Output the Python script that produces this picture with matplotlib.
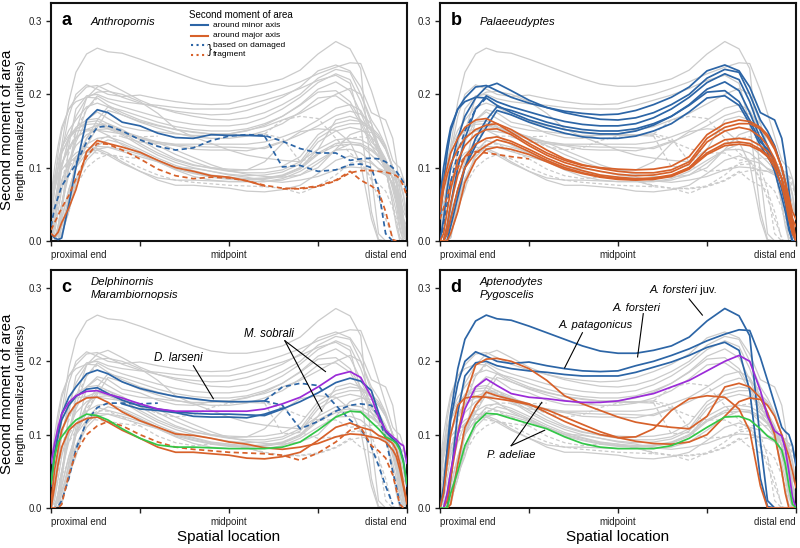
import matplotlib.pyplot as plt
import numpy as np

nan = np.nan

# spatial location along the bone, 0 = proximal end, 1 = distal end
x = [0.0, 0.01, 0.02, 0.03, 0.05, 0.07, 0.10, 0.13, 0.16, 0.20, 0.25, 0.30, 0.35,
     0.40, 0.45, 0.50, 0.55, 0.60, 0.65, 0.70, 0.75, 0.80, 0.84, 0.87, 0.90, 0.92,
     0.94, 0.96, 0.97, 0.98, 0.99, 1.0]

# --- a: Anthropornis
anthro_minor = [0.01, 0.004, 0.002, 0.004, 0.05, 0.10, 0.165, 0.179, 0.175, 0.162, 0.157, 0.147, 0.141,
                0.14, 0.145, 0.144, 0.144, 0.143, nan, nan, nan, nan, nan, nan, nan, nan,
                nan, nan, nan, nan, nan, nan]
anthro_minor_frag1 = [0.02, 0.045, 0.06, 0.075, 0.09, 0.105, 0.135, 0.155, 0.157, 0.15, 0.138, 0.129, 0.124,
                      0.127, 0.137, 0.143, 0.145, 0.144, 0.136, 0.126, 0.12, 0.12, 0.11, 0.112, 0.113, 0.112,
                      0.108, 0.10, 0.095, 0.088, 0.08, 0.07]
anthro_minor_frag2 = [nan, nan, nan, nan, nan, nan, nan, nan, nan, nan, nan, nan, nan,
                      nan, nan, nan, nan, 0.143, 0.101, 0.103, 0.095, 0.097, 0.104, 0.105, 0.10, 0.07,
                      0.01, 0.0, nan, nan, nan, nan]
anthro_major = [0.01, 0.006, 0.012, 0.025, 0.045, 0.07, 0.122, 0.137, 0.133, 0.128, 0.121, 0.11, 0.10,
                0.095, 0.089, 0.087, 0.082, 0.075, nan, nan, nan, nan, nan, nan, nan, nan,
                nan, nan, nan, nan, nan, nan]
anthro_major_frag1 = [0.015, 0.025, 0.035, 0.045, 0.062, 0.085, 0.115, 0.133, 0.132, 0.124, 0.112, 0.098, 0.089,
                      0.085, 0.087, 0.086, 0.082, 0.076, 0.072, 0.071, 0.074, 0.082, 0.093, 0.096, 0.096, 0.095,
                      0.094, 0.091, 0.089, 0.085, 0.075, 0.06]
anthro_major_frag2 = [nan, nan, nan, nan, nan, nan, nan, nan, nan, nan, nan, nan, nan,
                      nan, nan, nan, nan, nan, 0.071, 0.072, 0.075, 0.083, 0.095, 0.083, 0.075, 0.068,
                      0.04, 0.002, 0.0, nan, nan, nan]

# --- b: Palaeeudyptes
palae_minor = [
    [0.03, 0.08, 0.12, 0.15, 0.18, 0.195, 0.21, 0.212, 0.205, 0.196, 0.188, 0.182, 0.177, 0.174, 0.172, 0.173,
     0.178, 0.186, 0.196, 0.21, 0.232, 0.24, 0.232, 0.21, 0.175, 0.17, 0.165, 0.14, 0.11, 0.07, 0.02, 0.0],
    [0.0, 0.03, 0.07, 0.10, 0.14, 0.17, 0.195, 0.21, 0.215, 0.205, 0.192, 0.182, 0.175, 0.17, 0.166, 0.165,
     0.168, 0.175, 0.186, 0.20, 0.222, 0.234, 0.23, 0.20, 0.165, 0.15, 0.13, 0.10, 0.08, 0.05, 0.015, 0.0],
    [0.0, 0.0, 0.02, 0.05, 0.10, 0.14, 0.18, 0.198, 0.19, 0.183, 0.176, 0.169, 0.163, 0.159, 0.157, 0.157,
     0.16, 0.168, 0.18, 0.196, 0.216, 0.228, 0.22, 0.19, 0.15, 0.13, 0.105, 0.07, 0.05, 0.02, 0.0, 0.0],
    [0.0, 0.0, 0.0, 0.02, 0.06, 0.10, 0.14, 0.165, 0.183, 0.178, 0.17, 0.162, 0.156, 0.152, 0.15, 0.15,
     0.153, 0.16, 0.17, 0.186, 0.207, 0.217, 0.205, 0.175, 0.14, 0.12, 0.095, 0.06, 0.04, 0.015, 0.0, 0.0],
    [0.06, 0.10, 0.13, 0.155, 0.18, 0.19, 0.196, 0.195, 0.185, 0.175, 0.165, 0.158, 0.152, 0.148, 0.146, 0.146,
     0.15, 0.158, 0.17, 0.185, 0.203, 0.205, 0.19, 0.165, 0.135, 0.125, 0.11, 0.085, 0.065, 0.04, 0.02, 0.0],
    [0.0, 0.0, 0.01, 0.03, 0.07, 0.10, 0.13, 0.155, 0.178, 0.172, 0.162, 0.154, 0.147, 0.142, 0.14, 0.14,
     0.143, 0.15, 0.16, 0.176, 0.195, 0.198, 0.185, 0.16, 0.13, 0.115, 0.10, 0.075, 0.06, 0.035, 0.01, 0.0],
]
palae_minor_frag = [0.0, 0.02, 0.05, 0.08, 0.12, 0.15, 0.18, 0.195, nan, nan, nan, nan, nan, nan, nan, nan,
                    nan, nan, nan, nan, nan, nan, nan, nan, nan, nan, nan, nan, nan, nan, nan, nan]
palae_major = [
    [0.05, 0.08, 0.10, 0.12, 0.14, 0.155, 0.165, 0.167, 0.16, 0.148, 0.133, 0.12, 0.11, 0.103, 0.10, 0.098,
     0.097, 0.098, 0.102, 0.115, 0.145, 0.16, 0.165, 0.163, 0.155, 0.145, 0.128, 0.10, 0.08, 0.055, 0.03, 0.0],
    [0.04, 0.07, 0.09, 0.105, 0.125, 0.14, 0.152, 0.158, 0.16, 0.152, 0.138, 0.124, 0.112, 0.104, 0.099, 0.095,
     0.093, 0.093, 0.097, 0.108, 0.14, 0.155, 0.16, 0.16, 0.153, 0.142, 0.125, 0.10, 0.08, 0.06, 0.04, 0.03],
    [0.0, 0.01, 0.04, 0.07, 0.11, 0.13, 0.145, 0.152, 0.153, 0.145, 0.13, 0.117, 0.107, 0.10, 0.095, 0.091,
     0.089, 0.09, 0.094, 0.105, 0.135, 0.15, 0.155, 0.152, 0.142, 0.13, 0.112, 0.085, 0.065, 0.04, 0.015, 0.0],
    [0.0, 0.0, 0.02, 0.05, 0.09, 0.115, 0.132, 0.14, 0.142, 0.136, 0.125, 0.113, 0.103, 0.096, 0.09, 0.087,
     0.085, 0.086, 0.09, 0.10, 0.125, 0.138, 0.14, 0.138, 0.13, 0.122, 0.108, 0.085, 0.065, 0.045, 0.02, 0.0],
    [0.0, 0.0, 0.01, 0.03, 0.07, 0.10, 0.12, 0.13, 0.138, 0.133, 0.122, 0.11, 0.10, 0.093, 0.088, 0.085,
     0.084, 0.085, 0.089, 0.10, 0.12, 0.133, 0.135, 0.133, 0.125, 0.117, 0.105, 0.085, 0.07, 0.05, 0.03, 0.02],
    [0.0, 0.0, 0.0, 0.01, 0.04, 0.08, 0.11, 0.125, 0.128, 0.125, 0.118, 0.108, 0.098, 0.092, 0.087, 0.084,
     0.083, 0.084, 0.088, 0.098, 0.118, 0.13, 0.132, 0.13, 0.123, 0.115, 0.10, 0.075, 0.055, 0.03, 0.01, 0.0],
]
palae_major_frag = [0.03, 0.045, 0.06, 0.08, 0.10, 0.115, 0.122, 0.12, 0.118, 0.115, 0.112, nan, nan, nan, nan, nan,
                    nan, nan, nan, nan, nan, nan, nan, nan, nan, nan, nan, nan, nan, nan, nan, nan]

# --- c: Delphinornis, Marambiornopsis
delph_minor = [
    [0.03, 0.07, 0.10, 0.128, 0.151, 0.165, 0.183, 0.188, 0.183, 0.172, 0.163, 0.157, 0.152, 0.149, 0.146, 0.145,
     0.145, 0.146, nan, nan, nan, nan, nan, nan, nan, nan, nan, nan, nan, nan, nan, nan],
    [0.035, 0.075, 0.10, 0.12, 0.14, 0.152, 0.162, 0.164, 0.156, 0.147, 0.139, 0.135, 0.131, 0.129, 0.128, 0.128,
     0.127, 0.126, 0.135, 0.145, 0.157, 0.171, 0.177, 0.173, 0.16, 0.13, 0.104, 0.094, 0.09, 0.082, 0.065, 0.03],
    [nan, nan, nan, nan, nan, nan, nan, nan, nan, 0.142, 0.135, 0.133, 0.13, 0.125, 0.124, 0.124,
     0.123, 0.128, 0.136, nan, nan, nan, nan, nan, nan, nan, nan, nan, nan, nan, nan, nan],
]
delph_minor_frag = [
    [0.0, 0.0, 0.002, 0.01, 0.04, 0.08, 0.118, 0.137, 0.143, 0.143, 0.142, 0.143, nan, nan, nan, nan,
     nan, 0.146, 0.165, 0.17, 0.167, 0.14, 0.12, 0.108, 0.083, 0.058, 0.03, 0.005, nan, nan, nan, nan],
    [nan, nan, nan, nan, nan, nan, nan, nan, nan, nan, nan, nan, nan, nan, nan, nan,
     nan, 0.146, 0.14, 0.108, 0.118, 0.132, 0.14, 0.142, 0.14, 0.125, 0.095, 0.05, 0.03, 0.005, 0.0, nan],
]
delph_major = [
    [0.006, 0.052, 0.08, 0.106, 0.128, 0.142, 0.15, 0.151, 0.144, 0.131, 0.119, 0.11, 0.101, 0.099, 0.095, 0.09,
     0.087, 0.082, 0.08, 0.083, 0.088, 0.097, 0.101, 0.10, 0.097, 0.095, 0.09, 0.079, 0.07, 0.052, 0.029, 0.006],
    [0.0, 0.029, 0.06, 0.083, 0.106, 0.115, 0.122, 0.124, 0.117, 0.106, 0.095, 0.083, 0.076, 0.076, 0.074, 0.072,
     0.068, 0.067, 0.07, 0.076, 0.092, 0.11, 0.116, 0.11, 0.106, 0.099, 0.095, 0.088, 0.079, 0.061, 0.033, 0.006],
]
delph_major_frag = [0.0, 0.0, 0.0, 0.005, 0.045, 0.075, 0.10, 0.112, 0.118, 0.112, 0.10, 0.09, 0.083, 0.08, 0.078,
                    0.076, 0.075, 0.074, 0.072, 0.065, 0.075, 0.09, 0.106, 0.11, 0.085, 0.078, 0.068, 0.045, 0.025,
                    0.005, 0.0, 0.0]
sobrali_minor = [0.061, 0.088, 0.11, 0.128, 0.144, 0.153, 0.159, 0.16, 0.155, 0.15, 0.142, 0.135, 0.132, 0.132,
                 0.132, 0.132, 0.132, 0.135, 0.142, 0.151, 0.165, 0.181, 0.186, 0.178, 0.151, 0.124, 0.106, 0.097,
                 0.093, 0.088, 0.085, 0.061]
sobrali_major = [0.033, 0.07, 0.09, 0.097, 0.11, 0.12, 0.128, 0.126, 0.12, 0.108, 0.095, 0.086, 0.083, 0.083,
                 0.082, 0.081, 0.081, 0.081, 0.083, 0.09, 0.106, 0.124, 0.132, 0.131, 0.117, 0.108, 0.097, 0.092,
                 0.088, 0.079, 0.061, 0.033]

# --- d: Aptenodytes, Pygoscelis
apten_minor = [
    [0.0, 0.03, 0.08, 0.13, 0.19, 0.23, 0.255, 0.263, 0.258, 0.256, 0.248, 0.239, 0.23, 0.221, 0.214, 0.211,
     0.211, 0.215, 0.221, 0.233, 0.255, 0.272, 0.262, 0.235, 0.09, 0.01, 0.0, 0.0, 0.0, 0.0, 0.0, 0.0],
    [0.0, 0.02, 0.07, 0.12, 0.17, 0.20, 0.213, 0.207, 0.20, 0.197, 0.199, 0.194, 0.19, 0.187, 0.186, 0.187,
     0.194, 0.20, 0.208, 0.217, 0.228, 0.237, 0.243, 0.242, 0.205, 0.174, 0.142, 0.11, 0.104, 0.10, 0.085, 0.058],
    [0.0, 0.0, 0.0, 0.04, 0.13, 0.18, 0.198, 0.20, 0.194, 0.19, 0.187, 0.185, 0.182, 0.18, 0.18, 0.18,
     0.185, 0.192, 0.199, 0.208, 0.219, 0.226, 0.215, 0.16, 0.04, 0.002, 0.0, 0.0, 0.0, 0.0, 0.0, 0.0],
]
apten_major = [
    [0.0, 0.0, 0.01, 0.04, 0.10, 0.15, 0.195, 0.203, 0.204, 0.20, 0.19, 0.174, 0.153, 0.142, 0.133, 0.124,
     0.117, 0.113, 0.11, 0.108, 0.125, 0.165, 0.17, 0.165, 0.15, 0.13, 0.10, 0.05, 0.02, 0.0, 0.0, 0.0],
    [0.0, 0.02, 0.06, 0.10, 0.14, 0.15, 0.152, 0.151, 0.149, 0.146, 0.141, 0.134, 0.124, 0.114, 0.104, 0.096,
     0.091, 0.088, 0.087, 0.09, 0.10, 0.125, 0.145, 0.15, 0.148, 0.14, 0.125, 0.10, 0.085, 0.07, 0.05, 0.028],
    [0.0, 0.0, 0.0, 0.005, 0.06, 0.11, 0.14, 0.158, 0.153, 0.148, 0.142, 0.13, 0.118, 0.108, 0.10, 0.096,
     0.097, 0.108, 0.133, 0.149, 0.153, 0.151, 0.135, 0.105, 0.03, 0.0, 0.0, 0.0, 0.0, 0.0, 0.0, 0.0],
]
adeliae_minor = [0.0, 0.0, 0.02, 0.05, 0.10, 0.135, 0.165, 0.176, 0.167, 0.156, 0.151, 0.149, 0.146, 0.144,
                 0.144, 0.146, 0.151, 0.156, 0.165, 0.174, 0.187, 0.20, 0.208, 0.20, 0.16, 0.125, 0.105, 0.098,
                 0.08, 0.05, 0.015, 0.0]
adeliae_major = [0.0, 0.0, 0.0, 0.02, 0.05, 0.085, 0.115, 0.129, 0.128, 0.122, 0.115, 0.108, 0.097, 0.088,
                 0.083, 0.081, 0.081, 0.081, 0.085, 0.095, 0.11, 0.124, 0.125, 0.12, 0.108, 0.098, 0.092, 0.079,
                 0.06, 0.03, 0.005, 0.0]

BLUE = '#2c65a6'
ORANGE = '#d7612a'
PURPLE = '#9b2bd8'
GREEN = '#33c748'
GRAY = '#cbcbcb'

# (values, colour, dashed)
groups = {
    'a': [(anthro_minor, BLUE, False), (anthro_minor_frag1, BLUE, True), (anthro_minor_frag2, BLUE, True),
          (anthro_major, ORANGE, False), (anthro_major_frag1, ORANGE, True), (anthro_major_frag2, ORANGE, True)],
    'b': [(c, BLUE, False) for c in palae_minor] + [(palae_minor_frag, BLUE, True)]
         + [(c, ORANGE, False) for c in palae_major] + [(palae_major_frag, ORANGE, True)],
    'c': [(c, BLUE, False) for c in delph_minor] + [(c, BLUE, True) for c in delph_minor_frag]
         + [(c, ORANGE, False) for c in delph_major] + [(delph_major_frag, ORANGE, True)]
         + [(sobrali_minor, PURPLE, False), (sobrali_major, GREEN, False)],
    'd': [(c, BLUE, False) for c in apten_minor] + [(c, ORANGE, False) for c in apten_major]
         + [(adeliae_minor, PURPLE, False), (adeliae_major, GREEN, False)],
}
genera = {'a': ['Anthropornis'], 'b': ['Palaeeudyptes'],
          'c': ['Delphinornis', 'Marambiornopsis'], 'd': ['Aptenodytes', 'Pygoscelis']}

plt.rcParams['font.family'] = ['Liberation Sans', 'DejaVu Sans']

fig = plt.figure(figsize=(8, 5.48), dpi=100)
boxes = {'a': [0.06375, 0.5602, 0.445, 0.4343], 'b': [0.55, 0.5602, 0.445, 0.4343],
         'c': [0.06375, 0.073, 0.445, 0.4343], 'd': [0.55, 0.073, 0.445, 0.4343]}
ytop = 0.3245

axes = {}
for key in 'abcd':
    ax = fig.add_axes(boxes[key])
    axes[key] = ax
    # everything that is not in this panel's group is drawn in gray
    for other in 'abcd':
        if other == key:
            continue
        for vals, col, dashed in groups[other]:
            ax.plot(x, vals, color=GRAY, lw=0.9, ls=(0, (3, 2)) if dashed else '-', zorder=1)
    for vals, col, dashed in groups[key]:
        ax.plot(x, vals, color=col, lw=1.25, ls=(0, (3, 2)) if dashed else '-', zorder=3)

    ax.set_xlim(0, 1)
    ax.set_ylim(0, ytop)
    ax.set_yticks([0, 0.1, 0.2, 0.3])
    ax.set_yticklabels(['0.0', '0.1', '0.2', '0.3'])
    ax.set_xticks([0, 0.25, 0.5, 0.75, 1.0])
    ax.set_xticklabels(['proximal end', '', 'midpoint', '', 'distal end'])
    labels = ax.get_xticklabels()
    labels[0].set_ha('left')
    labels[-1].set_ha('right')
    ax.tick_params(direction='out', length=3.5, width=1, labelsize=7, colors='#222222', pad=3)
    for sp in ax.spines.values():
        sp.set_linewidth(1.5)
        sp.set_color('#111111')

    ax.text(0.03, 0.294, key, fontsize=13, fontweight='bold', ha='left', va='baseline')
    gy = 0.299 if len(genera[key]) == 1 else 0.308
    for name in genera[key]:
        ax.text(0.11, gy, name, fontsize=8.2, style='italic', ha='left', va='center')
        gy -= 0.018

# y-axis labels
for fy in (0.763, 0.281):
    fig.text(0.0085, fy, 'Second moment of area', rotation=90, fontsize=10.8, ha='center', va='center')
    fig.text(0.0265, fy, 'length normalized (unitless)', rotation=90, fontsize=8.2, ha='center', va='center')

# x-axis labels
for key in 'cd':
    b = boxes[key]
    fig.text(b[0] + b[2] / 2, 0.02, 'Spatial location', fontsize=11, ha='center', va='center')

# legend in panel a
ax = axes['a']
ax.text(0.389, 0.308, 'Second moment of area', fontsize=7, ha='left', va='center')
leg_rows = [(0.294, BLUE, '-', 'around minor axis'), (0.280, ORANGE, '-', 'around major axis'),
            (0.267, BLUE, ':', 'based on damaged'), (0.254, ORANGE, ':', 'fragment')]
for ly, col, ls, lab in leg_rows:
    ax.plot([0.394, 0.442], [ly, ly], color=col, lw=1.5, ls=ls, zorder=4)
    ax.text(0.456, ly, lab, fontsize=6, ha='left', va='center')
ax.text(0.447, 0.2605, '}', fontsize=8.5, ha='center', va='center')

# annotations in panel c
ax = axes['c']
ax.text(0.357, 0.204, 'D. larseni', fontsize=8.3, style='italic', ha='center', va='center')
ax.plot([0.40, 0.456], [0.194, 0.149], color='black', lw=0.8, zorder=5)
ax.text(0.613, 0.237, 'M. sobrali', fontsize=8.3, style='italic', ha='center', va='center')
ax.plot([0.657, 0.771], [0.228, 0.186], color='black', lw=0.8, zorder=5)
ax.plot([0.657, 0.761], [0.228, 0.132], color='black', lw=0.8, zorder=5)

# annotations in panel d
ax = axes['d']
t = ax.text(0.588, 0.297, 'A. forsteri', fontsize=8, style='italic', ha='left', va='center')
ax.annotate(' juv.', xycoords=t, xy=(1, 0.5), va='center', ha='left', fontsize=8)
ax.plot([0.70, 0.737], [0.285, 0.263], color='black', lw=0.8, zorder=5)
ax.text(0.552, 0.273, 'A. forsteri', fontsize=8, style='italic', ha='center', va='center')
ax.plot([0.571, 0.555], [0.265, 0.206], color='black', lw=0.8, zorder=5)
ax.text(0.436, 0.25, 'A. patagonicus', fontsize=8, style='italic', ha='center', va='center')
ax.plot([0.40, 0.35], [0.239, 0.191], color='black', lw=0.8, zorder=5)
ax.text(0.20, 0.072, 'P. adeliae', fontsize=8, style='italic', ha='center', va='center')
ax.plot([0.20, 0.286], [0.085, 0.144], color='black', lw=0.8, zorder=5)
ax.plot([0.20, 0.294], [0.085, 0.106], color='black', lw=0.8, zorder=5)

fig.savefig('out.png', dpi=100)
